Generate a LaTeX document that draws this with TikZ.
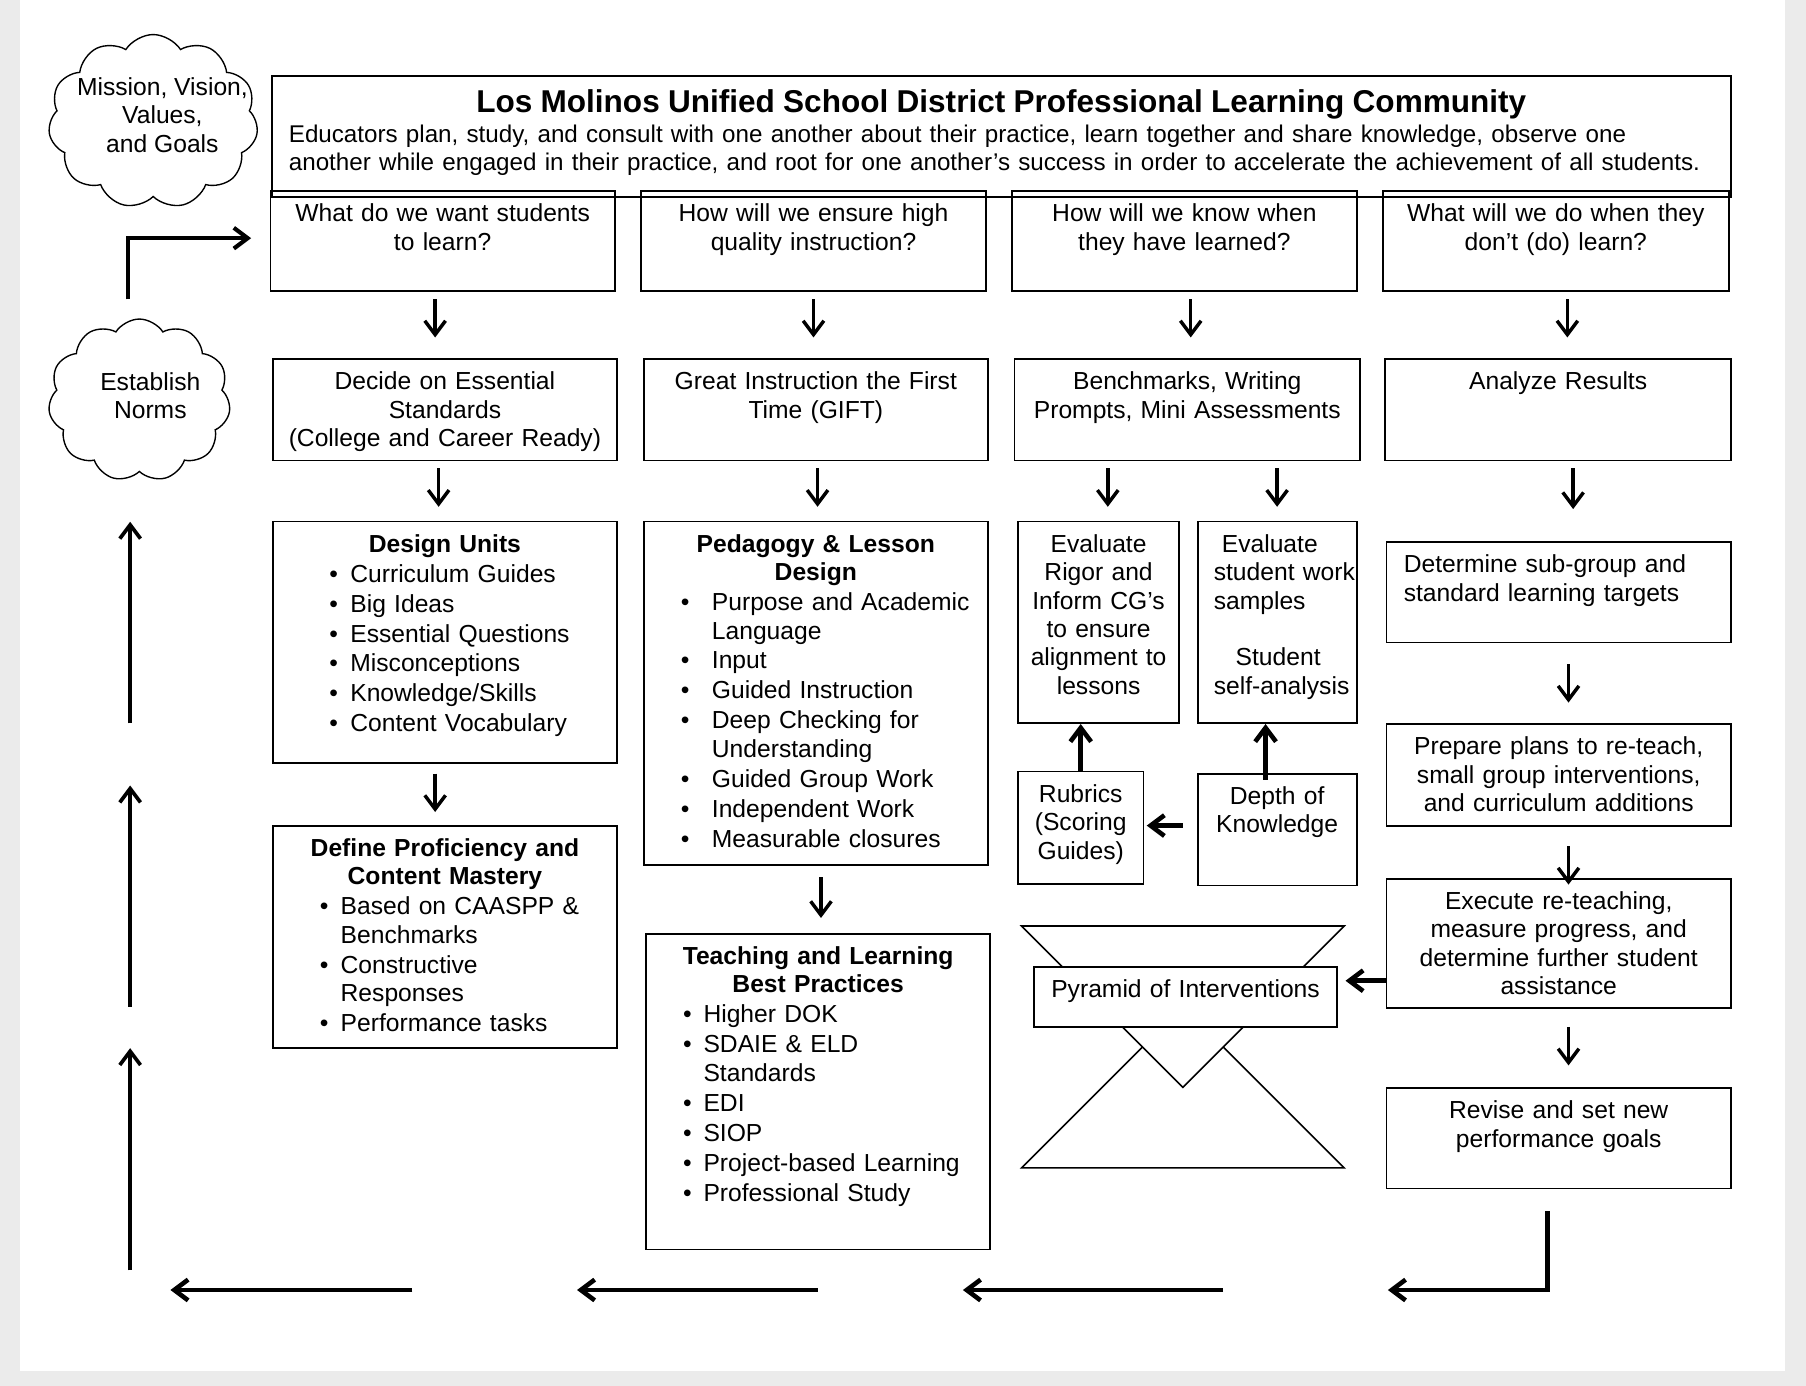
\documentclass[tikz,border=0pt]{standalone}
\usepackage{fontspec}
\setmainfont{Liberation Sans}
\usepackage{tikz}
\usetikzlibrary{positioning,calc,arrows.meta,shapes.symbols}
\tikzset{>={Straight Barb[length=6pt,width=9pt]}}
\setlength{\parindent}{0pt}
\definecolor{pagegray}{HTML}{EBEBEB}
\newcommand*{\itm}[2]{\hspace*{#1}\makebox[#2]{\textbullet}}
\newcommand*{\ttl}[1]{\makebox[\hsize]{\textbf{#1}}}
\newcommand*{\sub}[1]{\mbox{\fontsize{10.5}{12.35}\selectfont #1}}
\tikzset{
  box/.style 2 args={draw, line width=.8pt, anchor=north west, inner xsep=2pt, inner ysep=0pt,
    align=center, text width=#1, text height=13.3pt, text depth=#2},
  puff/.style={cloud, draw, line width=.6pt, cloud puffs=11, cloud puff arc=115, aspect=1.2, inner sep=0pt},
  dn/.style={->, line width=1.5pt},
  fat/.style={->, line width=2pt},
}

\begin{document}
\begin{tikzpicture}[x=.5pt,y=-.5pt,font=\fontsize{10.7}{12.35}\selectfont]
\useasboundingbox (0,0) rectangle (1568,1203);
\fill[pagegray] (0,0) rectangle (1568,1203);
\fill[white] (17,0) rectangle (1550,1190);

\node[puff, minimum width=91pt, minimum height=75.5pt] (M) at (133,105.5) {};
\node[align=center] (Mt) at (141,100) {Mission, Vision,\\Values,\\and Goals};
\node[puff, minimum width=79pt, minimum height=70.5pt] (N) at (121,347.5) {};
\node[align=center] (Nt) at (130.5,343.5) {Establish\\Norms};

\node[box={618.5pt}{36.5pt}, inner xsep=7.5pt, text height=16pt, align=left] (T) at (235,65)
  {\ttl{\fontsize{13.7}{16}\selectfont Los Molinos Unified School District Professional Learning Community}\\[.45pt]
   \sub{Educators plan, study, and consult with one another about their practice, learn together and share knowledge, observe one}\\
   \sub{another while engaged in their practice, and root for one another’s success in order to accelerate the achievement of all students.}};

\node[box={145.5pt}{30.2pt}] (Q1) at (234,165) {What do we want students\\to learn?};
\node[box={145.5pt}{30.2pt}] (Q2) at (556,165) {How will we ensure high\\quality instruction?};
\node[box={145.5pt}{30.2pt}] (Q3) at (878,165) {How will we know when\\they have learned?};
\node[box={146pt}{30.2pt}] (Q4) at (1200,165) {What will we do when they\\don’t (do) learn?};

\node[box={145.5pt}{30.7pt}] (R1) at (236,311) {Decide on Essential\\Standards\\(College and Career Ready)};
\node[box={145.5pt}{30.7pt}] (R2) at (558,311) {Great Instruction the First\\Time (GIFT)};
\node[box={146pt}{30.7pt}] (R3) at (880,311) {Benchmarks, Writing\\Prompts, Mini Assessments};
\node[box={146pt}{30.7pt}] (R4) at (1202,311) {Analyze Results};

\node[box={145.5pt}{91.7pt}, align=left] (DU) at (236,452) {\ttl{Design Units}\\[.65pt]
  \itm{17.3pt}{14.4pt}Curriculum Guides\\[.65pt]
  \itm{17.3pt}{14.4pt}Big Ideas\\[.65pt]
  \itm{17.3pt}{14.4pt}Essential Questions\\[.65pt]
  \itm{17.3pt}{14.4pt}Misconceptions\\[.65pt]
  \itm{17.3pt}{14.4pt}Knowledge/Skills\\[.65pt]
  \itm{17.3pt}{14.4pt}Content Vocabulary};

\node[box={145.5pt}{83.2pt}, align=left] (DP) at (236,716) {\ttl{Define Proficiency and}\\
  \ttl{Content Mastery}\\[.65pt]
  \itm{13.2pt}{14.3pt}Based on CAASPP \&\\
  \hspace*{27.5pt}Benchmarks\\[.65pt]
  \itm{13.2pt}{14.3pt}Constructive\\
  \hspace*{27.5pt}Responses\\[.65pt]
  \itm{13.2pt}{14.3pt}Performance tasks};

\node[box={145.5pt}{135.7pt}, align=left] (PD) at (558,452) {\ttl{Pedagogy \& Lesson}\\
  \ttl{Design}\\[.65pt]
  \itm{4.35pt}{23.3pt}Purpose and Academic\\
  \hspace*{27.65pt}Language\\[.65pt]
  \itm{4.35pt}{23.3pt}Input\\[.65pt]
  \itm{4.35pt}{23.3pt}Guided Instruction\\[.65pt]
  \itm{4.35pt}{23.3pt}Deep Checking for\\
  \hspace*{27.65pt}Understanding\\[.65pt]
  \itm{4.35pt}{23.3pt}Guided Group Work\\[.65pt]
  \itm{4.35pt}{23.3pt}Independent Work\\[.65pt]
  \itm{4.35pt}{23.3pt}Measurable closures};

\node[box={145.5pt}{123.7pt}, align=left] (TL) at (560,810) {\ttl{Teaching and Learning}\\
  \ttl{Best Practices}\\[.65pt]
  \itm{9pt}{14pt}Higher DOK\\[.65pt]
  \itm{9pt}{14pt}SDAIE \& ELD\\
  \hspace*{23pt}Standards\\[.65pt]
  \itm{9pt}{14pt}EDI\\[.65pt]
  \itm{9pt}{14pt}SIOP\\[.65pt]
  \itm{9pt}{14pt}Project-based Learning\\[.65pt]
  \itm{9pt}{14pt}Professional Study};

\node[box={66pt}{74.2pt}] (ER) at (883,452) {Evaluate\\Rigor and\\Inform CG’s\\to ensure\\alignment to\\lessons};
\node[box={69pt}{74.2pt}, inner xsep=0pt, align=left] (ES) at (1039,452) {\hspace*{10.5pt}Evaluate\\
  \hspace*{7pt}\mbox{student work}\\
  \hspace*{7pt}samples\\[12.35pt]
  \hspace*{16.5pt}Student\\
  \hspace*{7pt}self-analysis};
\node[box={50.5pt}{35.7pt}] (RB) at (883,669) {Rubrics\\(Scoring\\Guides)};
\node[box={65pt}{35.2pt}] (DK) at (1039,671) {Depth of\\Knowledge};

\draw[line width=.7pt, fill=white] (887,1014) -- (1027,874) -- (1167,1014) -- cycle;
\draw[line width=.7pt, fill=white] (887,804) -- (1167,804) -- (1027,944) -- cycle;
\node[box={127.5pt}{12.7pt}, fill=white] (PI) at (897,839) {Pyramid of Interventions};

\node[box={134.5pt}{30.2pt}, inner xsep=7.5pt, align=left] (DT) at (1203,470) {Determine sub-group and\\standard learning targets};
\node[box={145.5pt}{30.7pt}] (PP) at (1203,628) {Prepare plans to re-teach,\\small group interventions,\\and curriculum additions};
\node[box={145.5pt}{42.7pt}] (EX) at (1203,762) {Execute re-teaching,\\measure progress, and\\determine further student\\assistance};
\node[box={145.5pt}{30.2pt}] (RV) at (1203,944) {Revise and set new\\performance goals};

\draw[dn, shorten <=3pt, shorten >=9pt] ([xshift=-3.25pt]Q1.south) -- ([xshift=-3.25pt]Q1.south |- R1.north);
\draw[dn, shorten <=3pt, shorten >=9pt] (Q2.south) -- (Q2.south |- R2.north);
\draw[dn, shorten <=3pt, shorten >=9pt] ([xshift=2.75pt]Q3.south) -- ([xshift=2.75pt]Q3.south |- R3.north);
\draw[dn, shorten <=3pt, shorten >=9pt] ([xshift=5pt]Q4.south) -- ([xshift=5pt]Q4.south |- R4.north);

\draw[dn, shorten <=3pt, shorten >=6pt] ([xshift=-2.75pt]R1.south) -- ([xshift=-2.75pt]R1.south |- DU.north);
\draw[dn, shorten <=3pt, shorten >=6pt] ([xshift=.75pt]R2.south) -- ([xshift=.75pt]R2.south |- PD.north);
\draw[dn, shorten <=3pt, shorten >=6pt] ([xshift=4pt]R3.south -| ER.north) -- ([xshift=4pt]ER.north);
\draw[dn, shorten <=3pt, shorten >=6pt] (R3.south -| ES.north) -- (ES.north);
\draw[dn, shorten <=3pt, shorten >=14pt] ([xshift=6.5pt]R4.south) -- ([xshift=6.5pt]R4.south |- DT.north);

\draw[dn, shorten <=4pt, shorten >=5.5pt] ([xshift=-4.25pt]DU.south) -- ([xshift=-4.25pt]DU.south |- DP.north);
\draw[dn, shorten <=5pt, shorten >=6.5pt] ([xshift=2.25pt]PD.south) -- ([xshift=2.25pt]PD.south |- TL.north);

\draw[fat] (RB.north) -- (RB.north |- ER.south);
\draw[fat, shorten <=-3pt] ([xshift=-5pt]DK.north) -- ([xshift=-5pt]DK.north |- ES.south);
\draw[fat, shorten <=6pt, shorten >=1pt] ([yshift=1.75pt]DK.west) -- ([yshift=1.75pt]DK.west -| RB.east);

\draw[dn, shorten <=9pt, shorten >=9pt] ([xshift=4.25pt]DT.south) -- ([xshift=4.25pt]DT.south |- PP.north);
\draw[dn, shorten <=8.5pt, shorten >=-3pt] ([xshift=4.25pt]PP.south) -- ([xshift=4.25pt]PP.south |- EX.north);
\draw[dn, shorten <=8pt, shorten >=9.5pt] ([xshift=4.25pt]EX.south) -- ([xshift=4.25pt]EX.south |- RV.north);
\draw[fat, shorten >=3.3pt] ([yshift=7.15pt]PI.east -| EX.west) -- ([yshift=7.15pt]PI.east);

\coordinate (C4) at (1205,1120);
\coordinate (B1) at (1062,1120);
\coordinate (B2) at (836,1120);
\coordinate (B3) at (710,1120);
\coordinate (B4) at (501,1120);
\coordinate (B5) at (358,1120);
\coordinate (B6) at (148,1120);
\draw[fat] ([xshift=-4.75pt,yshift=-9.5pt]RV.south) |- (C4);
\draw[fat] (B1) -- (B2);
\draw[fat] (B3) -- (B4);
\draw[fat] (B5) -- (B6);

\coordinate (L1) at (113,1103);
\coordinate (L2) at (113,910);
\coordinate (L3) at (113,874);
\coordinate (L4) at (113,682);
\coordinate (L5) at (113,628);
\coordinate (L6) at (113,453);
\draw[->, line width=1.6pt] (L1) -- (L2);
\draw[->, line width=1.6pt] (L3) -- (L4);
\draw[->, line width=1.6pt] (L5) -- (L6);

\coordinate (E) at (111,260);
\draw[->, line width=1.8pt, shorten >=8pt] (E) |- ([yshift=1.25pt]Q1.west);
\end{tikzpicture}
\end{document}
